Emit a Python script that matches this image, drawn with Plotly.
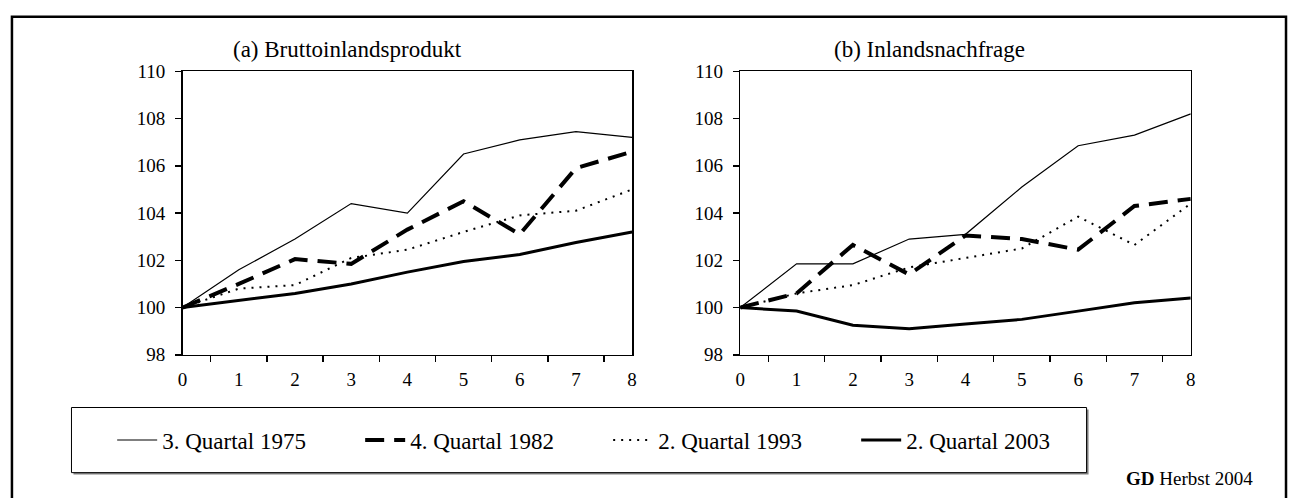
import plotly.graph_objects as go

W, H = 1293, 498

quarters = ["0", "1", "2", "3", "4", "5", "6", "7", "8"]
series_names = ["3. Quartal 1975", "4. Quartal 1982", "2. Quartal 1993", "2. Quartal 2003"]

# (a) Bruttoinlandsprodukt
bip_1975 = [100, 101.6, 102.9, 104.4, 104.0, 106.5, 107.1, 107.45, 107.2]
bip_1982 = [100, 101.0, 102.05, 101.85, 103.3, 104.5, 103.1, 105.9, 106.6]
bip_1993 = [100, 100.8, 100.95, 102.1, 102.45, 103.2, 103.9, 104.1, 105.0]
bip_2003 = [100, 100.3, 100.6, 101.0, 101.5, 101.95, 102.25, 102.75, 103.2]

# (b) Inlandsnachfrage
inl_1975 = [100, 101.85, 101.85, 102.9, 103.1, 105.1, 106.85, 107.3, 108.2]
inl_1982 = [100, 100.6, 102.65, 101.4, 103.05, 102.9, 102.45, 104.3, 104.6]
inl_1993 = [100, 100.6, 100.95, 101.7, 102.1, 102.5, 103.85, 102.65, 104.4]
inl_2003 = [100, 99.85, 99.25, 99.1, 99.3, 99.5, 99.85, 100.2, 100.4]

styles = [
    dict(color="black", width=1.2, dash="solid"),
    dict(color="black", width=4, dash="19px,10px"),
    dict(color="black", width=2, dash="2px,6px"),
    dict(color="black", width=3, dash="solid"),
]

FONT = "Liberation Serif"

fig = go.Figure()
panel_a = [bip_1975, bip_1982, bip_1993, bip_2003]
panel_b = [inl_1975, inl_1982, inl_1993, inl_2003]
for i, (name, vals) in enumerate(zip(series_names, panel_a)):
    fig.add_trace(go.Scatter(x=quarters, y=vals, mode="lines", name=name,
                             line=styles[i], xaxis="x", yaxis="y", showlegend=True,
                             hoverinfo="skip"))
for i, (name, vals) in enumerate(zip(series_names, panel_b)):
    fig.add_trace(go.Scatter(x=quarters, y=vals, mode="lines", name=name,
                             line=styles[i], xaxis="x2", yaxis="y2", showlegend=False,
                             hoverinfo="skip"))

def px_x(p):
    return p / W

def px_y(p):
    return 1 - p / H

ydom = [px_y(360), px_y(64)]
xaxis_common = dict(type="category", tickson="boundaries", ticks="outside", ticklen=6,
                    tickwidth=1.5, tickcolor="black", showline=True, linecolor="black",
                    linewidth=1.5, mirror=True, showgrid=False, zeroline=False,
                    tickfont=dict(family=FONT, size=19, color="black"),
                    ticklabelstandoff=7, fixedrange=True)
yaxis_common = dict(range=[98, 110], dtick=2, tick0=98, ticks="outside", ticklen=6,
                    tickwidth=1.5, tickcolor="black", showline=True, linecolor="black",
                    linewidth=1.5, mirror=True, showgrid=False, zeroline=False,
                    tickfont=dict(family=FONT, size=19, color="black"),
                    ticklabelstandoff=6, fixedrange=True)

fig.update_layout(
    width=W, height=H,
    margin=dict(l=0, r=0, t=0, b=0),
    paper_bgcolor="white", plot_bgcolor="rgba(0,0,0,0)",
    font=dict(family=FONT, color="black"),
    xaxis=dict(domain=[px_x(179), px_x(632)], anchor="y", **xaxis_common),
    yaxis=dict(domain=ydom, anchor="x", **yaxis_common),
    xaxis2=dict(domain=[px_x(741), px_x(1195)], anchor="y2", **xaxis_common),
    yaxis2=dict(domain=ydom, anchor="x2", **yaxis_common),
    legend=dict(orientation="h", x=px_x(108), xanchor="left", y=px_y(449), yanchor="middle",
                font=dict(family=FONT, size=23, color="black"),
                bgcolor="rgba(0,0,0,0)", borderwidth=0,
                entrywidth=193, entrywidthmode="pixels", itemwidth=40),
    shapes=[
        # outer frame
        dict(type="rect", xref="paper", yref="paper", x0=px_x(7), x1=px_x(1291),
             y0=-0.2, y1=px_y(7), line=dict(color="black", width=2.5), layer="below"),
        # legend box shadow
        dict(type="rect", xref="paper", yref="paper", x0=px_x(69), x1=px_x(1092),
             y0=px_y(485), y1=px_y(417), line=dict(width=0), fillcolor="#808080", layer="below"),
        # legend box
        dict(type="rect", xref="paper", yref="paper", x0=px_x(67), x1=px_x(1090),
             y0=px_y(483), y1=px_y(415), line=dict(color="black", width=1),
             fillcolor="white", layer="below"),
    ],
    annotations=[
        dict(text="(a) Bruttoinlandsprodukt", xref="paper", yref="paper",
             x=px_x(345), y=px_y(41), xanchor="center", yanchor="middle", showarrow=False,
             font=dict(family=FONT, size=23, color="black")),
        dict(text="(b) Inlandsnachfrage", xref="paper", yref="paper",
             x=px_x(932), y=px_y(41), xanchor="center", yanchor="middle", showarrow=False,
             font=dict(family=FONT, size=23, color="black")),
        dict(text="<b>GD</b> Herbst 2004", xref="paper", yref="paper",
             x=px_x(1128), y=px_y(489), xanchor="left", yanchor="middle", showarrow=False,
             font=dict(family=FONT, size=19, color="black")),
    ],
)

fig.write_html("out.html", config={"displayModeBar": False, "staticPlot": True},
               post_script="document.body.style.margin='0px';")
